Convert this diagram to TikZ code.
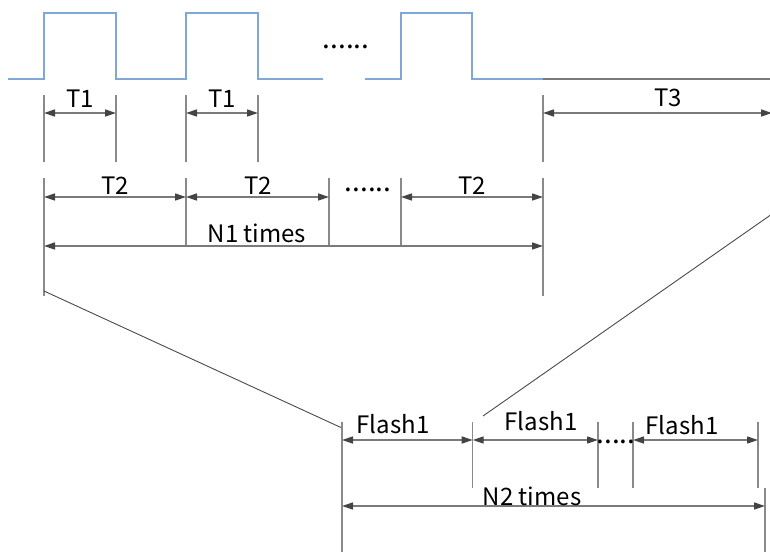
\documentclass[tikz,border=0pt]{standalone}
\usepackage{fontspec}
\setmainfont{Noto Sans CJK SC}
\usetikzlibrary{arrows.meta}
\definecolor{wavec}{HTML}{80A8D6}
\definecolor{dimc}{HTML}{7A7A7A}
\definecolor{tipc}{HTML}{444444}
\definecolor{extc}{HTML}{8A8A8A}
\definecolor{diagc}{HTML}{4A4A4A}
\begin{document}
\begin{tikzpicture}[x=1pt,y=-1pt,
  wave/.style={draw=wavec,line width=1.3pt},
  base/.style={draw=dimc,line width=1.3pt},
  ext/.style={draw=extc,line width=1.2pt},
  dimline/.style={draw=dimc,line width=1.5pt,
    {Triangle[length=11pt,width=7pt,color=tipc]}-{Triangle[length=11pt,width=7pt,color=tipc]}},
  diag/.style={draw=diagc,line width=0.9pt},
  lbl/.style={font=\fontsize{24}{24}\selectfont,anchor=base,inner sep=0pt},
  dots/.style={font=\fontsize{28}{28}\selectfont,anchor=base,inner sep=0pt}
]
\useasboundingbox (0,0) rectangle (770,552);

% waveform
\draw[wave] (8,79) -- (44,79) -- (44,13) -- (116,13) -- (116,79) -- (186,79) -- (186,13) -- (258,13) -- (258,79) -- (323,79);
\draw[wave] (365,79) -- (401,79) -- (401,13) -- (472,13) -- (472,79) -- (543,79);
\coordinate (b0) at (543,79);
\coordinate (b1) at (772,79);
\draw[base] (b0) -- (b1);
\node[dots] (wd) at (346,48) {......};

% T1 / T3 row
\foreach \n/\x in {a/44,b/116,c/186,d/258,e/543}{
  \coordinate (t\n1) at (\x,95);
  \coordinate (t\n2) at (\x,162);
  \coordinate (t\n) at (\x,113);
  \draw[ext] (t\n1) -- (t\n2);
}
\coordinate (tf) at (772,113);
\draw[dimline] (ta) -- (tb);
\draw[dimline] (tc) -- (td);
\draw[dimline] (te) -- (tf);
\node[lbl] (lt1a) at (80,107) {T1};
\node[lbl] (lt1b) at (222,107) {T1};
\node[lbl] (lt3) at (668,106) {T3};

% T2 row
\coordinate (pa1) at (44,178); \coordinate (pa2) at (44,296);
\coordinate (pe1) at (543,178); \coordinate (pe2) at (543,296);
\draw[ext] (pa1) -- (pa2);
\draw[ext] (pe1) -- (pe2);
\foreach \n/\x in {b/186,c/329,d/401}{
  \coordinate (p\n1) at (\x,178);
  \coordinate (p\n2) at (\x,246);
  \draw[ext] (p\n1) -- (p\n2);
}
\foreach \n/\x in {a/44,b/186,c/329,d/401,e/543}{
  \coordinate (q\n) at (\x,197);
  \coordinate (r\n) at (\x,246);
}
\draw[dimline] (qa) -- (qb);
\draw[dimline] (qb) -- (qc);
\draw[dimline] (qd) -- (qe);
\draw[dimline] (ra) -- (re);
\node[lbl] (lt2a) at (115,194) {T2};
\node[lbl] (lt2b) at (258,194) {T2};
\node[lbl] (lt2c) at (472,194) {T2};
\node[dots] (td2) at (368,191) {......};
\node[lbl] (ln1) at (257,242) {N1 times};

% zoom lines
\coordinate (z1a) at (44,291); \coordinate (z1b) at (342,428);
\coordinate (z2a) at (772,214); \coordinate (z2b) at (483,416);
\draw[diag] (z1a) -- (z1b);
\draw[diag] (z2a) -- (z2b);

% Flash row
\coordinate (fa1) at (342,422); \coordinate (fa2) at (342,552);
\draw[ext] (fa1) -- (fa2);
\foreach \n/\x in {b/472.7,c/598,d/633,e/758}{
  \coordinate (f\n1) at (\x,422);
  \coordinate (f\n2) at (\x,488);
  \draw[ext] (f\n1) -- (f\n2);
}
\coordinate (ff1) at (765,488); \coordinate (ff2) at (765,552);
\draw[ext] (ff1) -- (ff2);
\foreach \n/\x in {a/342,b/472.7,c/598,d/633,e/758}{
  \coordinate (g\n) at (\x,440);
}
\draw[dimline] (ga) -- (gb);
\draw[dimline] (gb) -- (gc);
\draw[dimline] (gd) -- (ge);
\node[dots] (fd) at (616,443) {.....};
\node[lbl] (lf1) at (393,433) {Flash1};
\node[lbl] (lf2) at (541,430) {Flash1};
\node[lbl] (lf3) at (682,434) {Flash1};
\coordinate (ha) at (342,506); \coordinate (hb) at (765,506);
\draw[dimline] (ha) -- (hb);
\node[lbl] (ln2) at (532,505) {N2 times};
\end{tikzpicture}
\end{document}
